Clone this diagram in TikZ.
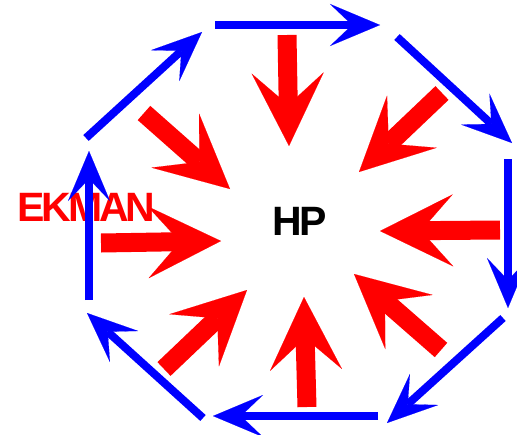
\documentclass[tikz,border=0pt]{standalone}
\usepackage{fontspec}
\usepackage{graphicx}
\setmainfont{Liberation Sans}
\newfontfamily\tightsans[LetterSpace=-5]{Liberation Sans}
\newfontfamily\tightersans[LetterSpace=-7.5]{Liberation Sans}
\usetikzlibrary{arrows.meta}
\tikzset{
  bluearrow/.style={draw={rgb,255:red,0;green,0;blue,255}, line width=8pt,
    -{Stealth[length=50pt, width=42pt, inset=22pt, line width=0.1pt]}},
  redarrow/.style={draw={rgb,255:red,255;green,0;blue,0}, line width=19pt,
    -{Stealth[length=73pt, width=72pt, inset=32pt, line width=0.1pt]}},
  lbl/.style={inner sep=0pt, font=\tightsans\bfseries\fontsize{41}{41}\selectfont},
  ekmanlbl/.style={inner sep=0pt, font=\tightersans\bfseries\fontsize{41}{41}\selectfont}
}
\begin{document}
\begin{tikzpicture}[x=1pt, y=-1pt]
\useasboundingbox (0,0) rectangle (517,434);
% texts
\node[ekmanlbl, text={rgb,255:red,255;green,0;blue,0}, anchor=base west] (ekman) at (17,221) {EKMAN};
\node[lbl, text=black, anchor=base west] (hp) at (272,235) {HP};
% blue octagon arrows
\coordinate (b1s) at (215,25);  \coordinate (b1e) at (380,25);
\coordinate (b2s) at (397,37);  \coordinate (b2e) at (512,143);
\coordinate (b3s) at (508,159); \coordinate (b3e) at (508,308);
\coordinate (b4s) at (503,318); \coordinate (b4e) at (387,423);
\coordinate (b5s) at (378,416); \coordinate (b5e) at (213,416);
\coordinate (b6s) at (203,418); \coordinate (b6e) at (87,313);
\coordinate (b7s) at (89,300);  \coordinate (b7e) at (89,151);
\coordinate (b8s) at (86,138);  \coordinate (b8e) at (202,32);
\foreach \i in {1,...,8} { \draw[bluearrow] (b\i s) -- (b\i e); }
% red inward arrows
\coordinate (r1s) at (287,35);  \coordinate (r1e) at (289,146);
\coordinate (r2s) at (442,93);  \coordinate (r2e) at (359,172);
\coordinate (r3s) at (500,230); \coordinate (r3e) at (380,231);
\coordinate (r4s) at (441,350); \coordinate (r4e) at (354,274);
\coordinate (r5s) at (307,407); \coordinate (r5e) at (304,297);
\coordinate (r6s) at (164,369); \coordinate (r6e) at (247,290);
\coordinate (r7s) at (101,243); \coordinate (r7e) at (221,241);
\coordinate (r8s) at (144,113); \coordinate (r8e) at (230,189);
\foreach \i in {1,...,8} { \draw[redarrow] (r\i s) -- (r\i e); }
\end{tikzpicture}
\end{document}
